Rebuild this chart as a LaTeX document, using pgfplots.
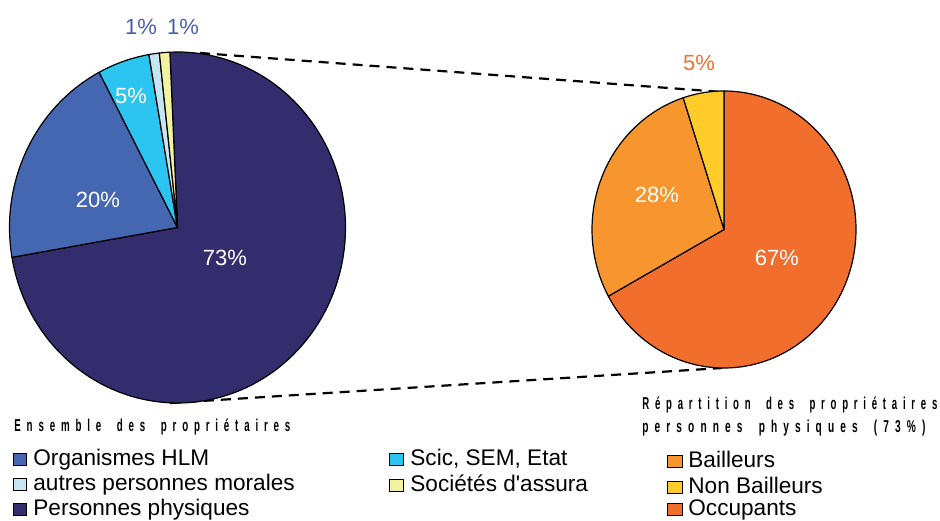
\documentclass[border=0pt]{standalone}
\usepackage{pgfplots}
\pgfplotsset{compat=1.18}
\usepackage{fontspec}
\setmainfont{Liberation Sans}
\usepackage{graphicx}

\definecolor{hlm}{RGB}{69,102,176}
\definecolor{pphys}{RGB}{51,45,110}
\definecolor{scic}{RGB}{44,196,240}
\definecolor{autres}{RGB}{196,230,240}
\definecolor{soc}{RGB}{242,242,160}
\definecolor{bail}{RGB}{247,150,46}
\definecolor{nonbail}{RGB}{255,204,41}
\definecolor{occ}{RGB}{242,110,44}
\definecolor{lblblue}{RGB}{70,96,176}
\definecolor{lblorange}{RGB}{242,112,50}

% #1 cx, #2 cy, #3 rx, #4 ry, #5 start angle, #6 percent before, #7 percent, #8 colour
\newcommand{\pieslice}[8]{%
  \addplot[fill=#8, draw=black, line width=0.6pt, line join=round,
    domain={#5-3.6*(#6+#7)}:{#5-3.6*(#6)}, samples=120, variable=\t]
    ({#1+#3*cos(\t)},{#2+#4*sin(\t)}) -- (#1,#2) -- cycle;
}
\newcommand{\titlefont}{\fontsize{8.6pt}{10pt}\selectfont\bfseries\addfontfeature{LetterSpace=60}}
\newcommand{\ws}{\hspace{1.6em}}
\newcommand{\pct}{\fontsize{11pt}{12pt}\selectfont}
\newcommand{\leg}{\fontsize{11.3pt}{13pt}\selectfont}

\begin{document}
\begin{tikzpicture}
\begin{axis}[x=0.5pt, y=0.5pt, xmin=0, xmax=940, ymin=0, ymax=520,
  hide axis, clip=false, scale only axis]
\path (axis cs:0,0) rectangle (axis cs:940,520);

% connector lines
\draw[black, line width=1.1pt, dash pattern=on 5pt off 3.5pt] (axis cs:200,467) -- (axis cs:722,428);
\draw[black, line width=1.1pt, dash pattern=on 5pt off 3.5pt] (axis cs:170,117) -- (axis cs:722,152);

% left pie: Ensemble des proprietaires (73, 20, 5, 1, 1)
\pieslice{177.5}{292.5}{168}{175.5}{92.6}{0}{73}{pphys}
\pieslice{177.5}{292.5}{168}{175.5}{92.6}{73}{20}{hlm}
\pieslice{177.5}{292.5}{168}{175.5}{92.6}{93}{5}{scic}
\pieslice{177.5}{292.5}{168}{175.5}{92.6}{98}{1}{autres}
\pieslice{177.5}{292.5}{168}{175.5}{92.6}{99}{1}{soc}

% right pie: personnes physiques (67, 28, 5)
\pieslice{724}{290.5}{132}{138.5}{90}{0}{67}{occ}
\pieslice{724}{290.5}{132}{138.5}{90}{67}{28}{bail}
\pieslice{724}{290.5}{132}{138.5}{90}{95}{5}{nonbail}

% percentage labels
\node[text=lblblue] at (axis cs:141,493) {\pct 1\%};
\node[text=lblblue] at (axis cs:183,493) {\pct 1\%};
\node[text=white] at (axis cs:131,424) {\pct 5\%};
\node[text=white] at (axis cs:98,320) {\pct 20\%};
\node[text=white] at (axis cs:225,262) {\pct 73\%};
\node[text=white] at (axis cs:657,325) {\pct 28\%};
\node[text=white] at (axis cs:777,262) {\pct 67\%};
\node[text=lblorange] at (axis cs:699,457) {\pct 5\%};

% titles
\node[anchor=base west, inner sep=0pt] at (axis cs:14,89)
  {\resizebox{138pt}{\height}{\titlefont Ensemble\ws des\ws propriétaires}};
\node[anchor=base west, inner sep=0pt] at (axis cs:642,111)
  {\resizebox{147.5pt}{\height}{\titlefont Répartition\ws des\ws propriétaires}};
\node[anchor=base west, inner sep=0pt] at (axis cs:642,88)
  {\resizebox{141.5pt}{\height}{\titlefont personnes\ws physiques\ws (73\%)}};

% legends
\filldraw[fill=hlm, draw=black, line width=0.4pt] (axis cs:13,55) rectangle (axis cs:26,67);
\node[anchor=base west, inner sep=0pt] at (axis cs:33,55) {\leg Organismes HLM};
\filldraw[fill=autres, draw=black, line width=0.4pt] (axis cs:13,30) rectangle (axis cs:26,42);
\node[anchor=base west, inner sep=0pt] at (axis cs:33,30) {\leg autres personnes morales};
\filldraw[fill=pphys, draw=black, line width=0.4pt] (axis cs:13,5) rectangle (axis cs:26,17);
\node[anchor=base west, inner sep=0pt] at (axis cs:33,5) {\leg Personnes physiques};

\filldraw[fill=scic, draw=black, line width=0.4pt] (axis cs:389,55) rectangle (axis cs:403,67);
\node[anchor=base west, inner sep=0pt] at (axis cs:410,55) {\leg Scic, SEM, Etat};
\filldraw[fill=soc, draw=black, line width=0.4pt] (axis cs:389,29) rectangle (axis cs:403,41);
\node[anchor=base west, inner sep=0pt] at (axis cs:410,29) {\leg Sociétés d\textquotesingle assura};

\filldraw[fill=bail, draw=black, line width=0.4pt] (axis cs:667,53) rectangle (axis cs:682,65);
\node[anchor=base west, inner sep=0pt] at (axis cs:688,53) {\leg Bailleurs};
\filldraw[fill=nonbail, draw=black, line width=0.4pt] (axis cs:667,27) rectangle (axis cs:682,39);
\node[anchor=base west, inner sep=0pt] at (axis cs:688,27) {\leg Non Bailleurs};
\filldraw[fill=occ, draw=black, line width=0.4pt] (axis cs:667,5) rectangle (axis cs:682,17);
\node[anchor=base west, inner sep=0pt] at (axis cs:688,5) {\leg Occupants};
\end{axis}
\end{tikzpicture}
\end{document}
